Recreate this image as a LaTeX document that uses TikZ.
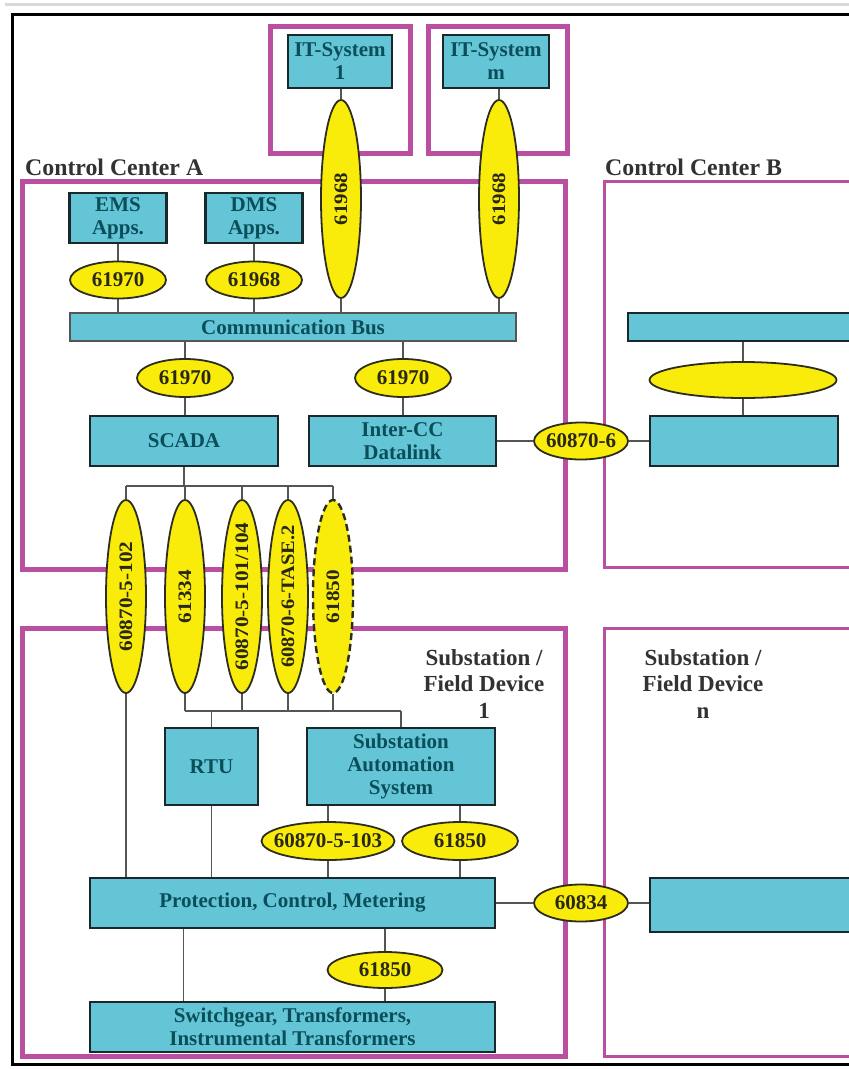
\documentclass[tikz,border=0pt]{standalone}
\usepackage{fontspec}
\setmainfont{Liberation Serif}
\usetikzlibrary{shapes.geometric,calc}
\pgfdeclarelayer{bglayer}
\pgfdeclarelayer{linelayer}
\pgfsetlayers{bglayer,linelayer,main}
\definecolor{cyanfill}{RGB}{100,197,214}
\definecolor{boxedge}{RGB}{25,40,42}
\definecolor{boxtext}{RGB}{10,78,90}
\definecolor{yell}{RGB}{250,236,10}
\definecolor{elledge}{RGB}{45,45,30}
\definecolor{elltext}{RGB}{40,40,20}
\definecolor{magframe}{RGB}{186,78,160}
\definecolor{linegray}{RGB}{85,85,85}
\definecolor{titlegray}{RGB}{50,50,50}
\begin{document}
\begin{tikzpicture}[x=1pt,y=-1pt]
\tikzset{
  box/.style={draw=boxedge, line width=2.2pt, fill=cyanfill, rectangle, inner sep=0pt, align=center, text=boxtext, font=\fontsize{21}{23}\selectfont\bfseries},
  ell/.style={draw=elledge, line width=1.8pt, fill=yell, ellipse, inner sep=0pt},
  elltxt/.style={text=elltext, font=\fontsize{21}{23}\selectfont\bfseries, inner sep=0pt},
  rottxt/.style={text=elltext, font=\fontsize{19}{21}\selectfont\bfseries, inner sep=0pt, rotate=90},
  frameA/.style={draw=magframe, line width=5pt},
  frameB/.style={draw=magframe, line width=3pt},
  conn/.style={draw=linegray, line width=1.3pt},
  title/.style={text=titlegray, font=\fontsize{23.8}{27}\selectfont\bfseries, inner sep=0pt},
  subt/.style={text=titlegray, font=\fontsize{23}{26.5}\selectfont\bfseries, inner sep=0pt, align=center},
}
\useasboundingbox (0,0) rectangle (849,1069);
\clip (0,0) rectangle (849,1069);

\begin{pgfonlayer}{bglayer}
\fill[white] (0,0) rectangle (849,1069);
% outer frame
\draw[black!15, line width=3pt] (5,4.5) -- (860,4.5);
\draw[black, line width=3pt] (860,14) -- (12,14) -- (12,1064) -- (860,1064);
% magenta frames
\draw[frameA] (270,26) rectangle (410,153);
\draw[frameA] (428,26) rectangle (567,153);
\draw[frameA] (22,181) rectangle (565,569);
\draw[frameB] (604,181) rectangle (880,567);
\draw[frameA] (22,628) rectangle (565,1056);
\draw[frameB] (604,628) rectangle (880,1056);
\end{pgfonlayer}

% titles
\node[title, anchor=base west] (tA) at (25,175) {Control Center A};
\node[title, anchor=base west] (tB) at (605,175) {Control Center B};
\node[subt, anchor=north] (ts1) at (484,649) {Substation /\\Field Device\\1};
\node[subt, anchor=north] (tsn) at (703,649) {Substation /\\Field Device\\n};

% boxes
\node[box, minimum width=104pt, minimum height=53pt] (it1) at (340,61.5) {IT-System\\1};
\node[box, minimum width=106pt, minimum height=53pt] (itm) at (496,61.5) {IT-System\\m};
\node[box, minimum width=97pt, minimum height=50pt] (ems) at (118,218) {EMS\\Apps.};
\node[box, minimum width=97pt, minimum height=50pt] (dms) at (254,218) {DMS\\Apps.};
\node[box, draw=linegray, line width=1.5pt, minimum width=446pt, minimum height=28pt] (bus) at (293,327) {Communication Bus};
\node[box, minimum width=188pt, minimum height=50pt] (scada) at (184,441) {SCADA};
\node[box, minimum width=187pt, minimum height=50pt] (icc) at (402.5,441) {Inter-CC\\Datalink};
\node[box, minimum width=242pt, minimum height=28pt] (busB) at (749,327) {};
\node[box, minimum width=188pt, minimum height=50pt] (boxB) at (744,441) {};
\node[box, minimum width=93pt, minimum height=77pt] (rtu) at (211.5,766.5) {RTU};
\node[box, minimum width=188pt, minimum height=77pt] (sas) at (401,766.5) {Substation\\Automation\\System};
\node[box, minimum width=405pt, minimum height=50pt] (pcm) at (292.5,903) {Protection, Control, Metering};
\node[box, minimum width=405pt, minimum height=50pt] (sw) at (292.5,1027) {Switchgear, Transformers,\\Instrumental Transformers};
\node[box, minimum width=230pt, minimum height=54pt] (bSn) at (765,905) {};

% ellipses
\node[ell, minimum width=96pt, minimum height=37pt, label={[elltxt]center:61970}] (eems) at (118,280) {};
\node[ell, minimum width=96pt, minimum height=37pt, label={[elltxt]center:61968}] (edms) at (254,280) {};
\node[ell, minimum width=40pt, minimum height=198pt, label={[rottxt]center:{\scalebox{1.1}[1]{61968}}}] (eit1) at (341,199) {};
\node[ell, minimum width=40pt, minimum height=198pt, label={[rottxt]center:{\scalebox{1.1}[1]{61968}}}] (eitm) at (499,199) {};
\node[ell, minimum width=96pt, minimum height=38pt, label={[elltxt]center:61970}] (es1) at (185,378) {};
\node[ell, minimum width=96pt, minimum height=38pt, label={[elltxt]center:61970}] (es2) at (403,378) {};
\node[ell, minimum width=94pt, minimum height=37pt, label={[elltxt]center:60870-6}] (ecc) at (581,441) {};
\node[ell, minimum width=187pt, minimum height=36pt] (ellB) at (743,380) {};
\node[ell, minimum width=40pt, minimum height=193pt, label={[rottxt]center:{\scalebox{1.12}[1]{60870-5-102}}}] (f1) at (126,596.5) {};
\node[ell, minimum width=40pt, minimum height=193pt, label={[rottxt]center:{\scalebox{1.12}[1]{61334}}}] (f2) at (185,596.5) {};
\node[ell, minimum width=40pt, minimum height=193pt, label={[rottxt]center:{\scalebox{1.12}[1]{60870-5-101/104}}}] (f3) at (242,596.5) {};
\node[ell, minimum width=40pt, minimum height=193pt, label={[rottxt]center:{\scalebox{1.08}[1]{60870-6-TASE.2}}}] (f4) at (288,596.5) {};
\node[ell, dashed, line width=2.4pt, dash pattern=on 7pt off 4pt, minimum width=40pt, minimum height=193pt, label={[rottxt]center:{\scalebox{1.12}[1]{61850}}}] (f5) at (333,596.5) {};
\node[ell, minimum width=133pt, minimum height=38pt, label={[elltxt]center:60870-5-103}] (e103) at (328,841) {};
\node[ell, minimum width=116pt, minimum height=38pt, label={[elltxt]center:61850}] (e850a) at (460,841) {};
\node[ell, minimum width=115pt, minimum height=36pt, label={[elltxt]center:61850}] (e850b) at (385,970) {};
\node[ell, minimum width=94pt, minimum height=37pt, label={[elltxt]center:60834}] (e834) at (581,903) {};

% connectors
\begin{pgfonlayer}{linelayer}
\coordinate (ftop) at (0,486);
\coordinate (fbot) at (0,711);
% IT systems
\draw[conn] (eit1.north) -- (eit1.north |- it1.south);
\draw[conn] (eitm.north) -- (eitm.north |- itm.south);
\draw[conn] (eit1.south) -- (eit1.south |- bus.north);
\draw[conn] (eitm.south) -- (eitm.south |- bus.north);
% apps
\draw[conn] (ems.south) -- (eems.north);
\draw[conn] (eems.south) -- (eems.south |- bus.north);
\draw[conn] (dms.south) -- (edms.north);
\draw[conn] (edms.south) -- (edms.south |- bus.north);
% bus to scada / inter-cc
\draw[conn] (es1.north) -- (es1.north |- bus.south);
\draw[conn] (es1.south) -- (es1.south |- scada.north);
\draw[conn] (es2.north) -- (es2.north |- bus.south);
\draw[conn] (es2.south) -- (es2.south |- icc.north);
% inter-CC link
\draw[conn] (icc.east) -- (ecc.west);
\draw[conn] (ecc.east) -- (ecc.east -| boxB.west);
% control center B
\draw[conn] (ellB.north) -- (ellB.north |- busB.south);
\draw[conn] (ellB.south) -- (ellB.south |- boxB.north);
% SCADA fan
\draw[conn] (scada.south) -- (scada.south |- ftop);
\draw[conn] (f1.north |- ftop) -- (f5.north |- ftop);
\foreach \f in {f1,f2,f3,f4,f5} \draw[conn] (\f.north) -- (\f.north |- ftop);
% lower fan
\foreach \f in {f2,f3,f4,f5} \draw[conn] (\f.south) -- (\f.south |- fbot);
\draw[conn] (f2.south |- fbot) -- (sas.north |- fbot);
\draw[conn] (rtu.north) -- (rtu.north |- fbot);
\draw[conn] (sas.north) -- (sas.north |- fbot);
\draw[conn] (f1.south) -- (f1.south |- pcm.north);
% substation internals
\draw[conn] (rtu.south) -- (rtu.south |- pcm.north);
\draw[conn] (e103.north) -- (e103.north |- sas.south);
\draw[conn] (e103.south) -- (e103.south |- pcm.north);
\draw[conn] (e850a.north) -- (e850a.north |- sas.south);
\draw[conn] (e850a.south) -- (e850a.south |- pcm.north);
\draw[conn] ($(pcm.south west)!0.232!(pcm.south east)$) -- ($(sw.north west)!0.232!(sw.north east)$);
\draw[conn] (e850b.north) -- (e850b.north |- pcm.south);
\draw[conn] (e850b.south) -- (e850b.south |- sw.north);
% substation link
\draw[conn] (pcm.east) -- (e834.west);
\draw[conn] (e834.east) -- (e834.east -| bSn.west);
\end{pgfonlayer}
\end{tikzpicture}
\end{document}
